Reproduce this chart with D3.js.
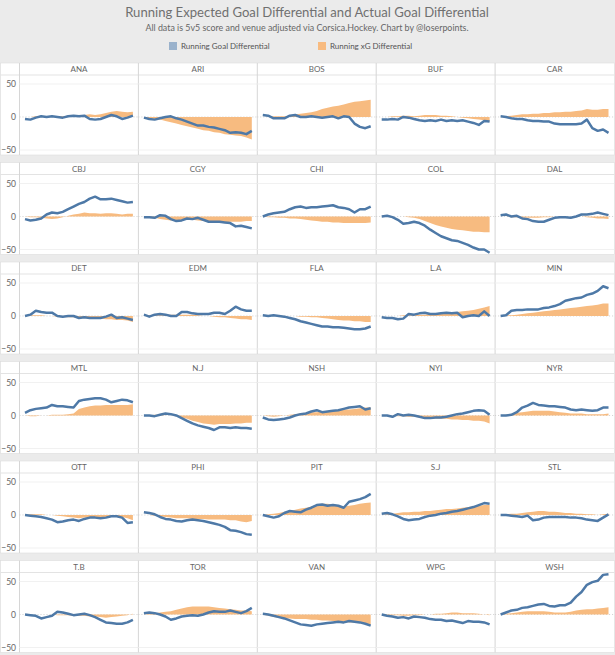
<!DOCTYPE html>
<html>
<head>
<meta charset="utf-8">
<script src="https://cdn.jsdelivr.net/npm/d3@7"></script>
<style>
  body { margin: 0; background: #ebebeb; font-family: Lato, "Open Sans", sans-serif; }
</style>
</head>
<body>
<div id="chart"></div>
<script>
// teams in the order of the small multiples (5 per row)
var teams = ["ANA","ARI","BOS","BUF","CAR","CBJ","CGY","CHI","COL","DAL",
             "DET","EDM","FLA","L.A","MIN","MTL","N.J","NSH","NYI","NYR",
             "OTT","PHI","PIT","S.J","STL","T.B","TOR","VAN","WPG","WSH"];

// running goal differential, sampled along the season (same order as teams)
var goalDiff = [
  [-3,-4,-1,1,0,1,0,-1,1,2,1,2,-3,-4,-3,0,3,1,-3,-1,2],
  [-1,-3,-4,-2,0,1,-2,-4,-7,-10,-13,-13,-15,-16,-18,-20,-24,-23,-24,-26,-21],
  [3,2,-2,-2,-2,2,3,0,0,1,0,-1,0,1,-2,1,0,-10,-15,-17,-14],
  [-4,-4,-3,-4,0,-1,-3,-5,-6,-5,-6,-4,-6,-5,-6,-5,-7,-9,-12,-6,-7],
  [1,0,-2,-3,-3,-5,-6,-6,-7,-7,-10,-11,-11,-11,-11,-10,-4,-17,-21,-19,-24],
  [-4,-6,-5,-3,3,6,5,7,11,15,19,22,27,30,26,26,27,25,23,21,22],
  [-1,-1,-2,2,1,-4,-7,-6,-3,-4,-2,-5,-8,-8,-8,-9,-10,-15,-14,-16,-18],
  [0,3,5,6,7,11,14,15,13,14,14,15,16,17,14,13,11,6,11,11,15],
  [0,1,-1,-5,-11,-10,-8,-10,-14,-20,-25,-30,-33,-36,-37,-40,-43,-47,-50,-50,-55],
  [2,3,0,1,-3,-4,-7,-8,-8,-5,-2,-1,-1,-2,0,3,3,4,6,4,2],
  [0,2,8,6,5,5,0,-1,0,0,-3,-2,-3,-3,-3,-1,2,-3,-2,-4,-6],
  [2,-1,2,3,2,0,0,6,6,4,3,3,3,5,5,3,8,14,10,8,8],
  [1,0,1,0,-1,-3,-5,-8,-10,-12,-14,-16,-16,-17,-17,-18,-19,-20,-20,-19,-16],
  [-2,-3,-3,-5,-4,3,2,4,5,3,3,4,5,4,5,-2,0,1,0,7,0],
  [0,1,8,9,9,10,10,10,12,13,15,18,23,25,27,28,32,34,38,45,42],
  [4,8,10,11,12,16,14,14,13,12,22,24,25,26,26,24,20,22,24,23,20],
  [0,0,-1,1,3,2,0,-4,-8,-12,-15,-17,-19,-22,-18,-18,-19,-18,-19,-19,-20],
  [-3,-6,-7,-6,-5,-3,0,2,3,6,8,5,6,7,8,10,12,13,14,9,11],
  [0,0,-2,2,0,1,0,-2,-4,-4,-3,-3,-2,0,2,3,5,7,8,7,1],
  [0,0,1,5,12,15,19,16,15,14,14,13,12,9,8,9,8,7,8,12,12],
  [0,-1,-2,-3,-5,-7,-11,-10,-8,-7,-9,-6,-4,-4,-5,-4,-2,-2,-4,-12,-11],
  [4,3,1,-3,-6,-7,-9,-10,-8,-7,-8,-9,-11,-13,-15,-18,-23,-24,-26,-29,-30],
  [0,-2,-4,-2,3,6,5,4,8,11,15,16,14,15,14,11,20,22,24,27,32],
  [2,3,1,-2,-6,-8,-7,-6,-3,-1,0,2,3,5,6,8,10,12,15,18,17],
  [0,0,-1,-2,-3,-1,-8,-7,-4,-3,-3,-3,-3,-4,-4,-5,-7,-8,-9,-4,1],
  [0,-1,-2,-6,-4,-2,4,3,1,-1,0,1,-1,-4,-8,-12,-13,-14,-14,-12,-8],
  [2,3,2,0,-3,-8,-6,-3,-2,-1,-2,0,3,5,4,4,6,4,2,5,10],
  [1,0,-2,-4,-6,-9,-12,-15,-16,-17,-15,-14,-13,-12,-11,-12,-10,-11,-12,-14,-17],
  [0,-2,-3,-5,-4,-6,-3,-4,-5,-7,-8,-8,-10,-9,-11,-13,-10,-11,-11,-12,-15],
  [0,3,6,7,10,11,13,15,16,13,12,14,14,18,27,34,45,49,51,60,61]
];

// running expected goal (xG) differential
var xgDiff = [
  [0,0,1,1,1,1,1,1,2,2,2,3,4,3,4,6,8,9,8,7,8],
  [0,-2,-3,-4,-6,-8,-10,-12,-14,-16,-18,-20,-21,-23,-24,-26,-27,-28,-29,-31,-34],
  [0,0,1,1,1,2,4,5,6,7,9,12,14,16,17,19,21,23,24,25,26],
  [0,0,1,1,2,2,1,2,3,3,3,2,2,1,0,-1,-2,-3,-4,-5,-7],
  [0,1,2,3,4,4,5,5,6,6,7,7,8,8,9,10,12,11,11,12,12],
  [0,-1,-1,-2,-3,-4,-3,-1,1,3,4,6,5,5,4,5,5,4,3,4,4],
  [0,-1,-2,-4,-5,-6,-6,-5,-5,-5,-6,-7,-8,-8,-8,-9,-8,-8,-8,-7,-7],
  [0,-1,-1,-2,-2,-3,-3,-4,-5,-6,-7,-8,-8,-9,-9,-10,-10,-10,-10,-10,-9],
  [0,0,0,0,0,-1,-2,-4,-7,-10,-13,-15,-17,-19,-20,-21,-22,-23,-23,-24,-24],
  [0,0,-1,-1,-2,-2,-2,-2,-1,-1,0,0,0,0,0,0,-1,-2,-3,-3,-4],
  [0,1,1,1,0,0,-1,-1,-2,-2,-3,-3,-4,-4,-4,-5,-5,-6,-6,-7,-9],
  [0,1,1,1,1,2,2,2,2,2,1,0,0,-1,-2,-2,-3,-4,-5,-5,-6],
  [0,0,0,0,0,0,0,-1,-1,-2,-2,-3,-4,-5,-6,-7,-7,-8,-8,-9,-9],
  [0,0,0,0,1,1,1,2,2,3,3,4,4,5,6,7,8,9,11,13,15],
  [0,1,1,2,3,4,5,6,7,8,9,10,11,12,13,14,15,16,17,19,19],
  [0,-1,-1,0,0,1,1,1,2,3,10,12,14,15,15,16,16,16,16,16,17],
  [0,0,1,1,0,0,-1,-3,-5,-8,-10,-12,-13,-14,-13,-13,-13,-12,-12,-11,-11],
  [0,-1,-2,-1,0,1,2,3,4,5,5,6,6,7,8,9,9,10,11,12,12],
  [0,0,0,-1,-1,-2,-2,-3,-4,-4,-5,-5,-5,-6,-6,-7,-7,-8,-8,-9,-12],
  [0,1,2,4,5,6,7,7,7,7,6,5,4,3,3,3,2,2,2,2,3],
  [0,1,1,1,0,0,-1,-2,-3,-4,-5,-4,-4,-3,-3,-3,-2,-2,-3,-5,-8],
  [0,0,-1,-2,-3,-4,-5,-5,-5,-6,-6,-6,-7,-7,-7,-7,-8,-8,-10,-11,-9],
  [0,1,2,3,5,6,8,10,11,13,15,17,17,16,14,13,14,15,17,18,19],
  [0,1,2,3,4,4,5,5,6,6,7,8,9,9,10,11,12,13,14,15,15],
  [0,1,2,2,3,4,5,6,6,5,5,4,3,3,2,2,1,1,0,1,2],
  [0,0,0,0,0,0,-1,-1,-1,-2,-2,-2,-3,-3,-4,-5,-4,-3,-2,-1,1],
  [0,1,2,3,4,5,7,9,11,12,12,12,12,11,10,9,8,7,6,6,5],
  [0,-2,-4,-5,-6,-6,-7,-7,-7,-8,-8,-9,-9,-10,-10,-11,-12,-12,-13,-14,-15],
  [0,-1,-1,-1,-2,-2,-1,-1,0,0,1,1,2,3,3,2,2,2,1,0,-1],
  [0,1,2,3,4,5,5,5,5,4,3,3,3,4,6,7,8,8,9,10,11]
];

var yTicks = [50, 0, -50];
var legendLabels = ["Running Goal Differential", "Running xG Differential"];

var blue = "#4e79a7", orange = "#f7bb80";

// overall layout
var width = 615, height = 655;
var cols = 5, rows = 6;
var axisW = 19.5, panelW = (614 - axisW) / cols;
var rowTop0 = 63, rowPitch = 99.5, headerH = 12, plotH = 80;

var svg = d3.select("#chart")
  .append("svg")
    .attr("width", width)
    .attr("height", height);

svg.append("rect")
  .attr("width", width).attr("height", height)
  .attr("fill", "#ebebeb");

// titles
svg.append("text")
  .attr("x", 307).attr("y", 17)
  .attr("text-anchor", "middle")
  .attr("font-size", 13.1)
  .attr("fill", "#707070")
  .text("Running Expected Goal Differential and Actual Goal Differential");

svg.append("text")
  .attr("x", 307).attr("y", 30.5)
  .attr("text-anchor", "middle")
  .attr("font-size", 8.9)
  .attr("fill", "#666")
  .text("All data is 5v5 score and venue adjusted via Corsica.Hockey. Chart by @loserpoints.");

// legend
var legend = svg.append("g");
var legendX = [169, 318];
[blue, orange].forEach(function(c, i) {
  legend.append("rect")
    .attr("x", legendX[i]).attr("y", 42)
    .attr("width", 8).attr("height", 8)
    .attr("fill", i == 0 ? "#9ab2cc" : "#f8bb80");
  legend.append("text")
    .attr("x", legendX[i] + 12).attr("y", 49)
    .attr("font-size", 8)
    .attr("fill", "#555")
    .text(legendLabels[i]);
});

// scales
var n = goalDiff[0].length;
var x = d3.scaleLinear()
  .domain([0, n - 1])
  .range([5.5, panelW - 5.5]);
var y = d3.scaleLinear()
  .domain([-57.6, 63.6])
  .range([plotH, 0]);

var area = d3.area()
  .x(function(d, i) { return x(i); })
  .y0(y(0))
  .y1(function(d) { return y(d); });
var line = d3.line()
  .x(function(d, i) { return x(i); })
  .y(function(d) { return y(d); });

for (var r = 0; r < rows; r++) {
  var rowY = rowTop0 + r * rowPitch;
  var row = svg.append("g").attr("transform", "translate(0," + rowY + ")");

  // white row band
  row.append("rect")
    .attr("x", 0.5).attr("y", 0)
    .attr("width", 614).attr("height", headerH + plotH)
    .attr("fill", "white")
    .attr("stroke", "#dcdcdc").attr("stroke-width", 0.6);

  // header bottom line
  row.append("line")
    .attr("x1", 0.5).attr("x2", 614.5)
    .attr("y1", headerH).attr("y2", headerH)
    .attr("stroke", "#e3e3e3");

  // y axis
  var ax = row.append("g")
    .attr("transform", "translate(17," + headerH + ")")
    .call(d3.axisLeft(y).tickValues(yTicks).tickSize(0).tickPadding(1));
  ax.select(".domain").remove();
  ax.selectAll("text")
    .attr("font-family", "Lato, 'Open Sans', sans-serif")
    .attr("font-size", 8.5)
    .attr("fill", "#666");

  for (var c = 0; c < cols; c++) {
    var k = r * cols + c;
    var px = axisW + c * panelW;
    var p = row.append("g").attr("transform", "translate(" + px + ",0)");

    // separator
    p.append("line")
      .attr("x1", 0).attr("x2", 0)
      .attr("y1", 0).attr("y2", headerH + plotH)
      .attr("stroke", "#d6d6d6");

    p.append("text")
      .attr("x", panelW / 2).attr("y", 9)
      .attr("text-anchor", "middle")
      .attr("font-size", 8)
      .attr("fill", "#666")
      .text(teams[k]);

    var g = p.append("g").attr("transform", "translate(0," + headerH + ")");

    // gridlines
    g.selectAll(".grid")
      .data([50, -50])
      .enter().append("line")
        .attr("x1", 0).attr("x2", panelW)
        .attr("y1", function(d) { return y(d); })
        .attr("y2", function(d) { return y(d); })
        .attr("stroke", "#f1f1f1");

    g.append("line")
      .attr("x1", 0).attr("x2", panelW)
      .attr("y1", y(0)).attr("y2", y(0))
      .attr("stroke", "#cfcfcf")
      .attr("stroke-dasharray", "1,2");

    g.append("path")
      .datum(xgDiff[k])
      .attr("d", area)
      .attr("fill", orange);

    g.append("path")
      .datum(goalDiff[k])
      .attr("d", line)
      .attr("fill", "none")
      .attr("stroke", blue)
      .attr("stroke-width", 2.5)
      .attr("stroke-linejoin", "round");
  }
}
</script>
</body>
</html>
